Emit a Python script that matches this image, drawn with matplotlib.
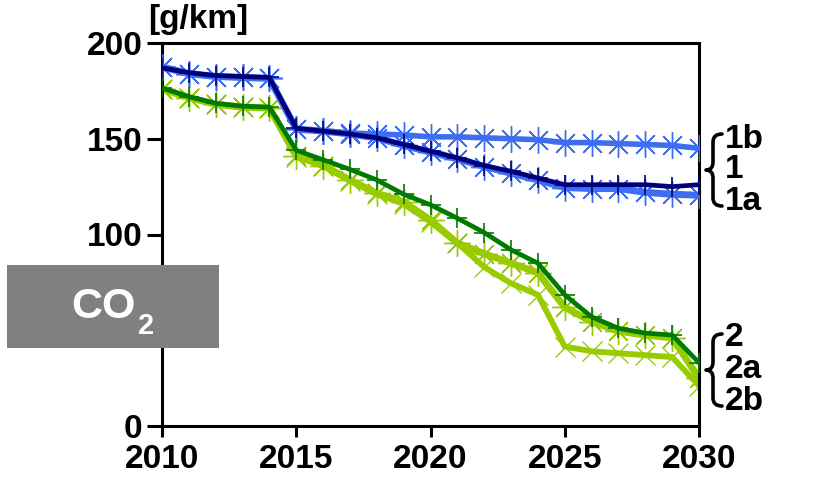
import matplotlib
matplotlib.use("Agg")
import matplotlib.pyplot as plt
from matplotlib.patches import Rectangle, PathPatch
from matplotlib.path import Path

plt.rcParams['font.family'] = ['Liberation Sans', 'DejaVu Sans']
plt.rcParams['font.weight'] = 'bold'

years = list(range(2010, 2031))

# scenario 1 family (g/km)
s1 = [187, 184.5, 183, 182.5, 182, 155.5, 154, 152.5, 150.5, 147, 143.5,
      140, 136, 133, 129.5, 126, 126, 126, 126, 125, 126]
s1a = [187.5, 184, 182.5, 182, 181.5, 155, 154, 152.5, 150.5, 146.5, 143,
       139.5, 135.5, 132, 128.5, 124.5, 124, 124, 122, 121, 120.5]
s1b = [187.5, 184, 182.5, 182, 181.5, 155, 154, 153, 152.5, 152, 151,
       151, 150.5, 150, 149.5, 148, 148, 147.5, 147, 146.5, 145]

# scenario 2 family (g/km)
s2 = [176.5, 172, 168.5, 167, 166.5, 144, 139, 134, 128.5, 121, 115.5,
      108.5, 101, 92, 85, 68.5, 57, 51, 48.5, 47.5, 33]
s2a = [176, 171.5, 168, 166.5, 166, 141, 136, 128.5, 121.5, 117, 107.5,
       95.5, 90, 85, 80, 62, 54.5, 49.5, 47.5, 46, 25]
s2b = [176, 171.5, 168, 166.5, 166, 140.5, 136, 128, 121, 116, 106.5,
       95.5, 83, 74.5, 68.5, 41.5, 39, 38, 37, 36, 21]

xticks = [2010, 2015, 2020, 2025, 2030]
yticks = [0, 50, 100, 150, 200]
ylabels = ['0', '', '100', '150', '200']  # 50 sits under the CO2 box

navy = '#00007a'
blue = '#3d6ef2'
dgreen = '#007a00'
lgreen = '#99cc00'
star = (8, 2, 0)

W, H = 815, 483
fig = plt.figure(figsize=(8.15, 4.83), dpi=100)
ax = fig.add_axes([162 / W, 1 - 426 / H, 537 / W, 383 / H])

# blue group
ax.plot(years, s1a, color=blue, lw=5.0, marker=star, ms=19, mew=1.0, zorder=3)
ax.plot(years, s1, color=navy, lw=3.4, marker='+', ms=15, mew=1.2, zorder=4)
ax.plot(years, s1b, color=blue, lw=4.0, marker=star, ms=19, mew=1.0, zorder=3)

# green group
ax.plot(years, s2, color=dgreen, lw=3.4, marker='+', ms=15, mew=1.2, zorder=3)
ax.plot(years, s2a, color=lgreen, lw=5.0, marker=star, ms=19, mew=1.0, zorder=2)
ax.plot(years, s2b, color=lgreen, lw=4.2, marker='x', ms=14, mew=1.0, zorder=2)

ax.set_xlim(2010, 2030)
ax.set_ylim(0, 200)
ax.set_xticks(xticks)
ax.set_yticks(yticks)
ax.set_yticklabels(ylabels)
ax.tick_params(axis='y', direction='out', length=11, width=2.2, labelsize=24, pad=3)
ax.tick_params(axis='x', direction='out', length=8, width=2.2, labelsize=24, pad=5)
for sp in ax.spines.values():
    sp.set_linewidth(2.2)
for lab in ax.get_xticklabels() + ax.get_yticklabels():
    lab.set_fontweight('bold')

fig.text(148 / W, 1 - 4 / H, '[g/km]', fontsize=24, fontweight='bold', ha='left', va='top')

# scenario labels
for y, t in [(139, '1b'), (169, '1'), (201, '1a'), (337, '2'), (370, '2a'), (402, '2b')]:
    fig.text(725 / W, 1 - y / H, t, fontsize=24, fontweight='bold', ha='left', va='center')


def brace(top, bot, x_tip=706, x_bar=713, x_end=722):
    mid = (top + bot) / 2
    r = 8
    pts = [(x_end, top), (x_bar, top), (x_bar, top + r),
           (x_bar, mid - r),
           (x_bar, mid), (x_tip, mid), (x_bar, mid), (x_bar, mid + r),
           (x_bar, bot - r),
           (x_bar, bot), (x_end, bot)]
    codes = [Path.MOVETO, Path.CURVE3, Path.CURVE3,
             Path.LINETO,
             Path.CURVE3, Path.CURVE3, Path.CURVE3, Path.CURVE3,
             Path.LINETO,
             Path.CURVE3, Path.CURVE3]
    verts = [(x / W, 1 - y / H) for x, y in pts]
    fig.patches.append(PathPatch(Path(verts, codes), transform=fig.transFigure,
                                 fill=False, lw=2.6, edgecolor='black',
                                 capstyle='round', joinstyle='round'))


brace(134, 206)
brace(334, 406)

# CO2 box
fig.patches.append(Rectangle((7 / W, 1 - 348 / H), 212 / W, 83 / H,
                             transform=fig.transFigure, facecolor='#808080',
                             edgecolor='none', zorder=10))
fig.text(136 / W, 1 - 307 / H, 'CO', fontsize=31, color='white', fontweight='bold',
         ha='right', va='center', zorder=11)
fig.text(138 / W, 1 - 326 / H, '2', fontsize=21, color='white', fontweight='bold',
         ha='left', va='center', zorder=11)

fig.savefig('out.png', dpi=100)
